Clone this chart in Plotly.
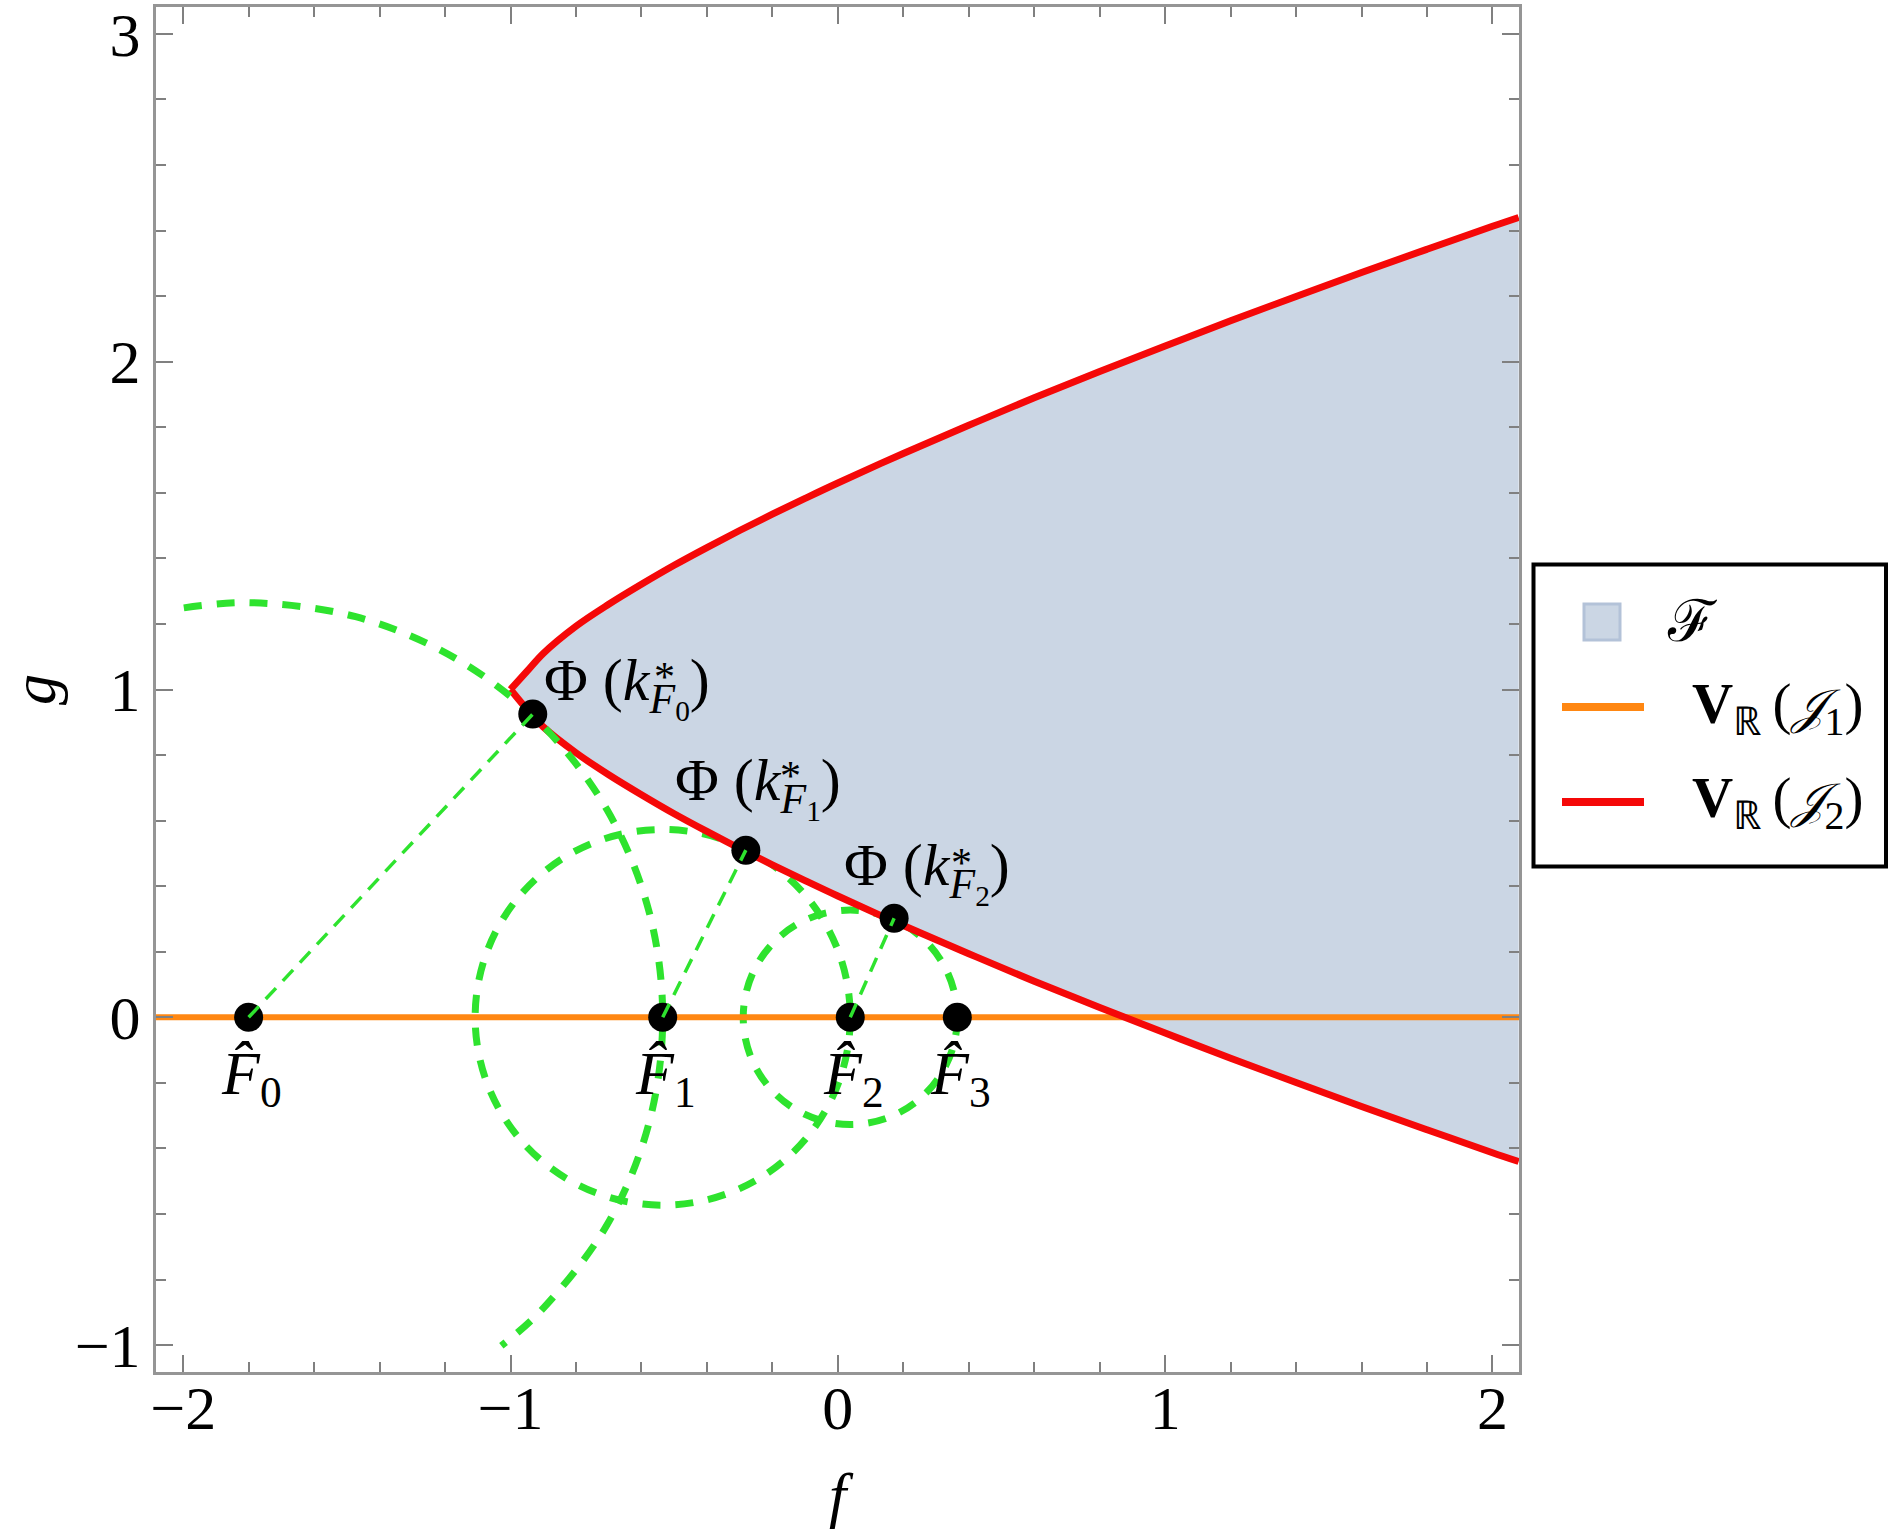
import plotly.graph_objects as go

# ---------------- data ----------------
f_curve = [-1.00, -0.95, -0.90, -0.80, -0.70, -0.60, -0.50, -0.40, -0.30, -0.20, -0.10,
           0.00, 0.20, 0.40, 0.60, 0.80, 1.00, 1.20, 1.40, 1.60, 1.80, 2.00, 2.08]
g_upper = [1.000, 1.055, 1.110, 1.193, 1.260, 1.321, 1.379, 1.433, 1.485, 1.535, 1.583,
           1.630, 1.720, 1.806, 1.890, 1.970, 2.048, 2.125, 2.199, 2.272, 2.343, 2.413, 2.440]
g_lower = [1.000, 0.940, 0.886, 0.807, 0.740, 0.679, 0.621, 0.567, 0.515, 0.465, 0.417,
           0.370, 0.280, 0.194, 0.110, 0.030, -0.048, -0.125, -0.199, -0.272, -0.343, -0.413, -0.440]

j1_f = [-2.1, 2.1]
j1_g = [0.0, 0.0]

F_hat_f = [-1.800, -0.535, 0.038, 0.365]
F_hat_g = [0.0, 0.0, 0.0, 0.0]
F_hat_idx = ["0", "1", "2", "3"]

phi_f = [-0.932, -0.281, 0.172]
phi_g = [0.925, 0.510, 0.302]
phi_idx = ["0", "1", "2"]

circle_radius = [1.265, 0.573, 0.327]  # circles centred on F_hat_f[0], [1], [2]

# partial arc of the circle around F_hat_0 (points read along the dashed arc)
arc0_f = [-1.998, -1.800, -1.473, -1.168, -0.906, -0.705, -0.578, -0.535, -0.578, -0.705, -0.906, -1.028]
arc0_g = [1.249, 1.265, 1.222, 1.095, 0.894, 0.633, 0.327, 0.000, -0.327, -0.633, -0.894, -1.002]

x_tickvals = [-2, -1, 0, 1, 2]
x_ticktext = ["\u22122", "\u22121", "0", "1", "2"]
y_tickvals = [-1, 0, 1, 2, 3]
y_ticktext = ["\u22121", "0", "1", "2", "3"]

# ---------------- styling ----------------
FONT = "Liberation Serif"
FILL = "#cbd6e4"
ORANGE = "#ff8712"
RED = "#f50808"
GREEN = "#2ee32e"
FRAME = "#959595"
TICK = "#808080"

W, H = 1890, 1529
L, R, T, B = 156, 371, 7, 157
PW, PH = W - L - R, H - T - B


def px(x):
    return (x - L) / PW


def py(y):
    return (H - B - y) / PH


fig = go.Figure()

# filled region between branches
fig.add_trace(go.Scatter(
    x=f_curve + f_curve[::-1], y=g_upper + g_lower[::-1],
    fill="toself", fillcolor=FILL, mode="lines", line=dict(width=0),
    hoverinfo="skip", showlegend=False))

# V_R(J1) : orange axis line
fig.add_trace(go.Scatter(x=j1_f, y=j1_g, mode="lines",
                         line=dict(color=ORANGE, width=6), showlegend=False))

# V_R(J2) : red curve (two branches)
fig.add_trace(go.Scatter(x=f_curve, y=g_upper, mode="lines",
                         line=dict(color=RED, width=7, shape="spline"), showlegend=False))
fig.add_trace(go.Scatter(x=f_curve, y=g_lower, mode="lines",
                         line=dict(color=RED, width=7, shape="spline"), showlegend=False))

# thick dashed arc around F_hat_0
fig.add_trace(go.Scatter(x=arc0_f, y=arc0_g, mode="lines",
                         line=dict(color=GREEN, width=7, dash="18px,15px", shape="spline"),
                         showlegend=False))

# full dashed circles around F_hat_1 and F_hat_2
shapes = []
for i in (1, 2):
    c, r = F_hat_f[i], circle_radius[i]
    shapes.append(dict(type="circle", xref="x", yref="y", layer="below",
                       x0=c - r, x1=c + r, y0=F_hat_g[i] - r, y1=F_hat_g[i] + r,
                       line=dict(color=GREEN, width=7, dash="18px,15px")))

# black points
fig.add_trace(go.Scatter(x=F_hat_f + phi_f, y=F_hat_g + phi_g, mode="markers",
                         marker=dict(color="black", size=29), showlegend=False))

# thin dashed lines from F_hat_n to Phi(k*_Fn)
tx, ty = [], []
for i in range(3):
    tx += [F_hat_f[i], phi_f[i], None]
    ty += [F_hat_g[i], phi_g[i], None]
fig.add_trace(go.Scatter(x=tx, y=ty, mode="lines",
                         line=dict(color=GREEN, width=3.5, dash="15px,10px"), showlegend=False))

annotations = []
# labels under F_hat points
for i in range(4):
    annotations.append(dict(
        x=F_hat_f[i], y=F_hat_g[i], xref="x", yref="y", showarrow=False,
        xanchor="center", yanchor="top", xshift=3, yshift=-20,
        text="<i>F\u0302</i><sub>" + F_hat_idx[i] + "</sub>",
        font=dict(family=FONT, size=62, color="black")))

# Phi labels (offsets in px relative to each point)
phi_off = [(9, 69), (-73, 105), (-52, 88)]
star_off = [(132, 37), (45, 74), (67, 55)]
for i in range(3):
    annotations.append(dict(
        x=phi_f[i], y=phi_g[i], xref="x", yref="y", showarrow=False,
        xanchor="left", yanchor="top", xshift=phi_off[i][0], yshift=phi_off[i][1],
        text="\u03a6 (<i>k</i><sub><i>F</i><sub>" + phi_idx[i] + "</sub></sub>)",
        font=dict(family=FONT, size=60, color="black")))
    annotations.append(dict(
        x=phi_f[i], y=phi_g[i], xref="x", yref="y", showarrow=False,
        xanchor="center", yanchor="middle", xshift=star_off[i][0], yshift=star_off[i][1],
        text="*", font=dict(family=FONT, size=42, color="black")))

# ---------------- manual legend ----------------
shapes.append(dict(type="rect", xref="paper", yref="paper",
                   x0=px(1533.5), x1=px(1886), y0=py(866.5), y1=py(564.5),
                   line=dict(color="black", width=4), fillcolor="white", layer="above"))
shapes.append(dict(type="rect", xref="paper", yref="paper",
                   x0=px(1584), x1=px(1620), y0=py(640), y1=py(604),
                   line=dict(color="#b3c2d8", width=3), fillcolor=FILL, layer="above"))
shapes.append(dict(type="line", xref="paper", yref="paper",
                   x0=px(1562), x1=px(1644), y0=py(707), y1=py(707),
                   line=dict(color=ORANGE, width=8), layer="above"))
shapes.append(dict(type="line", xref="paper", yref="paper",
                   x0=px(1562), x1=px(1644), y0=py(802), y1=py(802),
                   line=dict(color=RED, width=8), layer="above"))
J = "<span style='font-size:48px'><i>\U0001D4A5</i></span>"
legend_text = [("\u2131", 1665, 622, 58),
               ("<b>V</b><sub>\u211d</sub>\u2009(" + J + "<sub>1</sub>)", 1690, 708, 57),
               ("<b>V</b><sub>\u211d</sub>\u2009(" + J + "<sub>2</sub>)", 1690, 802, 57)]
for txt, xx, yy, fs in legend_text:
    annotations.append(dict(x=px(xx), y=py(yy), xref="paper", yref="paper", showarrow=False,
                            xanchor="left", yanchor="middle", text=txt,
                            font=dict(family=FONT, size=fs, color="black")))

axis_common = dict(
    showgrid=False, zeroline=False, showline=True, linecolor=FRAME, linewidth=3,
    mirror="ticks", ticks="inside", ticklen=17, tickwidth=2, tickcolor=TICK,
    tickfont=dict(family=FONT, size=62, color="black"),
    minor=dict(ticks="inside", ticklen=10, tickwidth=2, tickcolor=TICK, dtick=0.2, tick0=0),
)

fig.update_layout(
    width=W, height=H, margin=dict(l=L, r=R, t=T, b=B, autoexpand=False),
    paper_bgcolor="white", plot_bgcolor="white", showlegend=False,
    xaxis=dict(range=[-2.083, 2.081], tickvals=x_tickvals, ticktext=x_ticktext,
               ticklabelstandoff=-20,
               title=dict(text="<i>f</i>", font=dict(family=FONT, size=62, color="black"), standoff=32),
               **axis_common),
    yaxis=dict(range=[-1.082, 3.082], tickvals=y_tickvals, ticktext=y_ticktext,
               title=dict(text="<i>g</i>", font=dict(family=FONT, size=62, color="black"), standoff=8),
               **axis_common),
    shapes=shapes, annotations=annotations,
)

fig.write_html("out.html", config={"displayModeBar": False},
               post_script="document.body.style.margin='0px';")
